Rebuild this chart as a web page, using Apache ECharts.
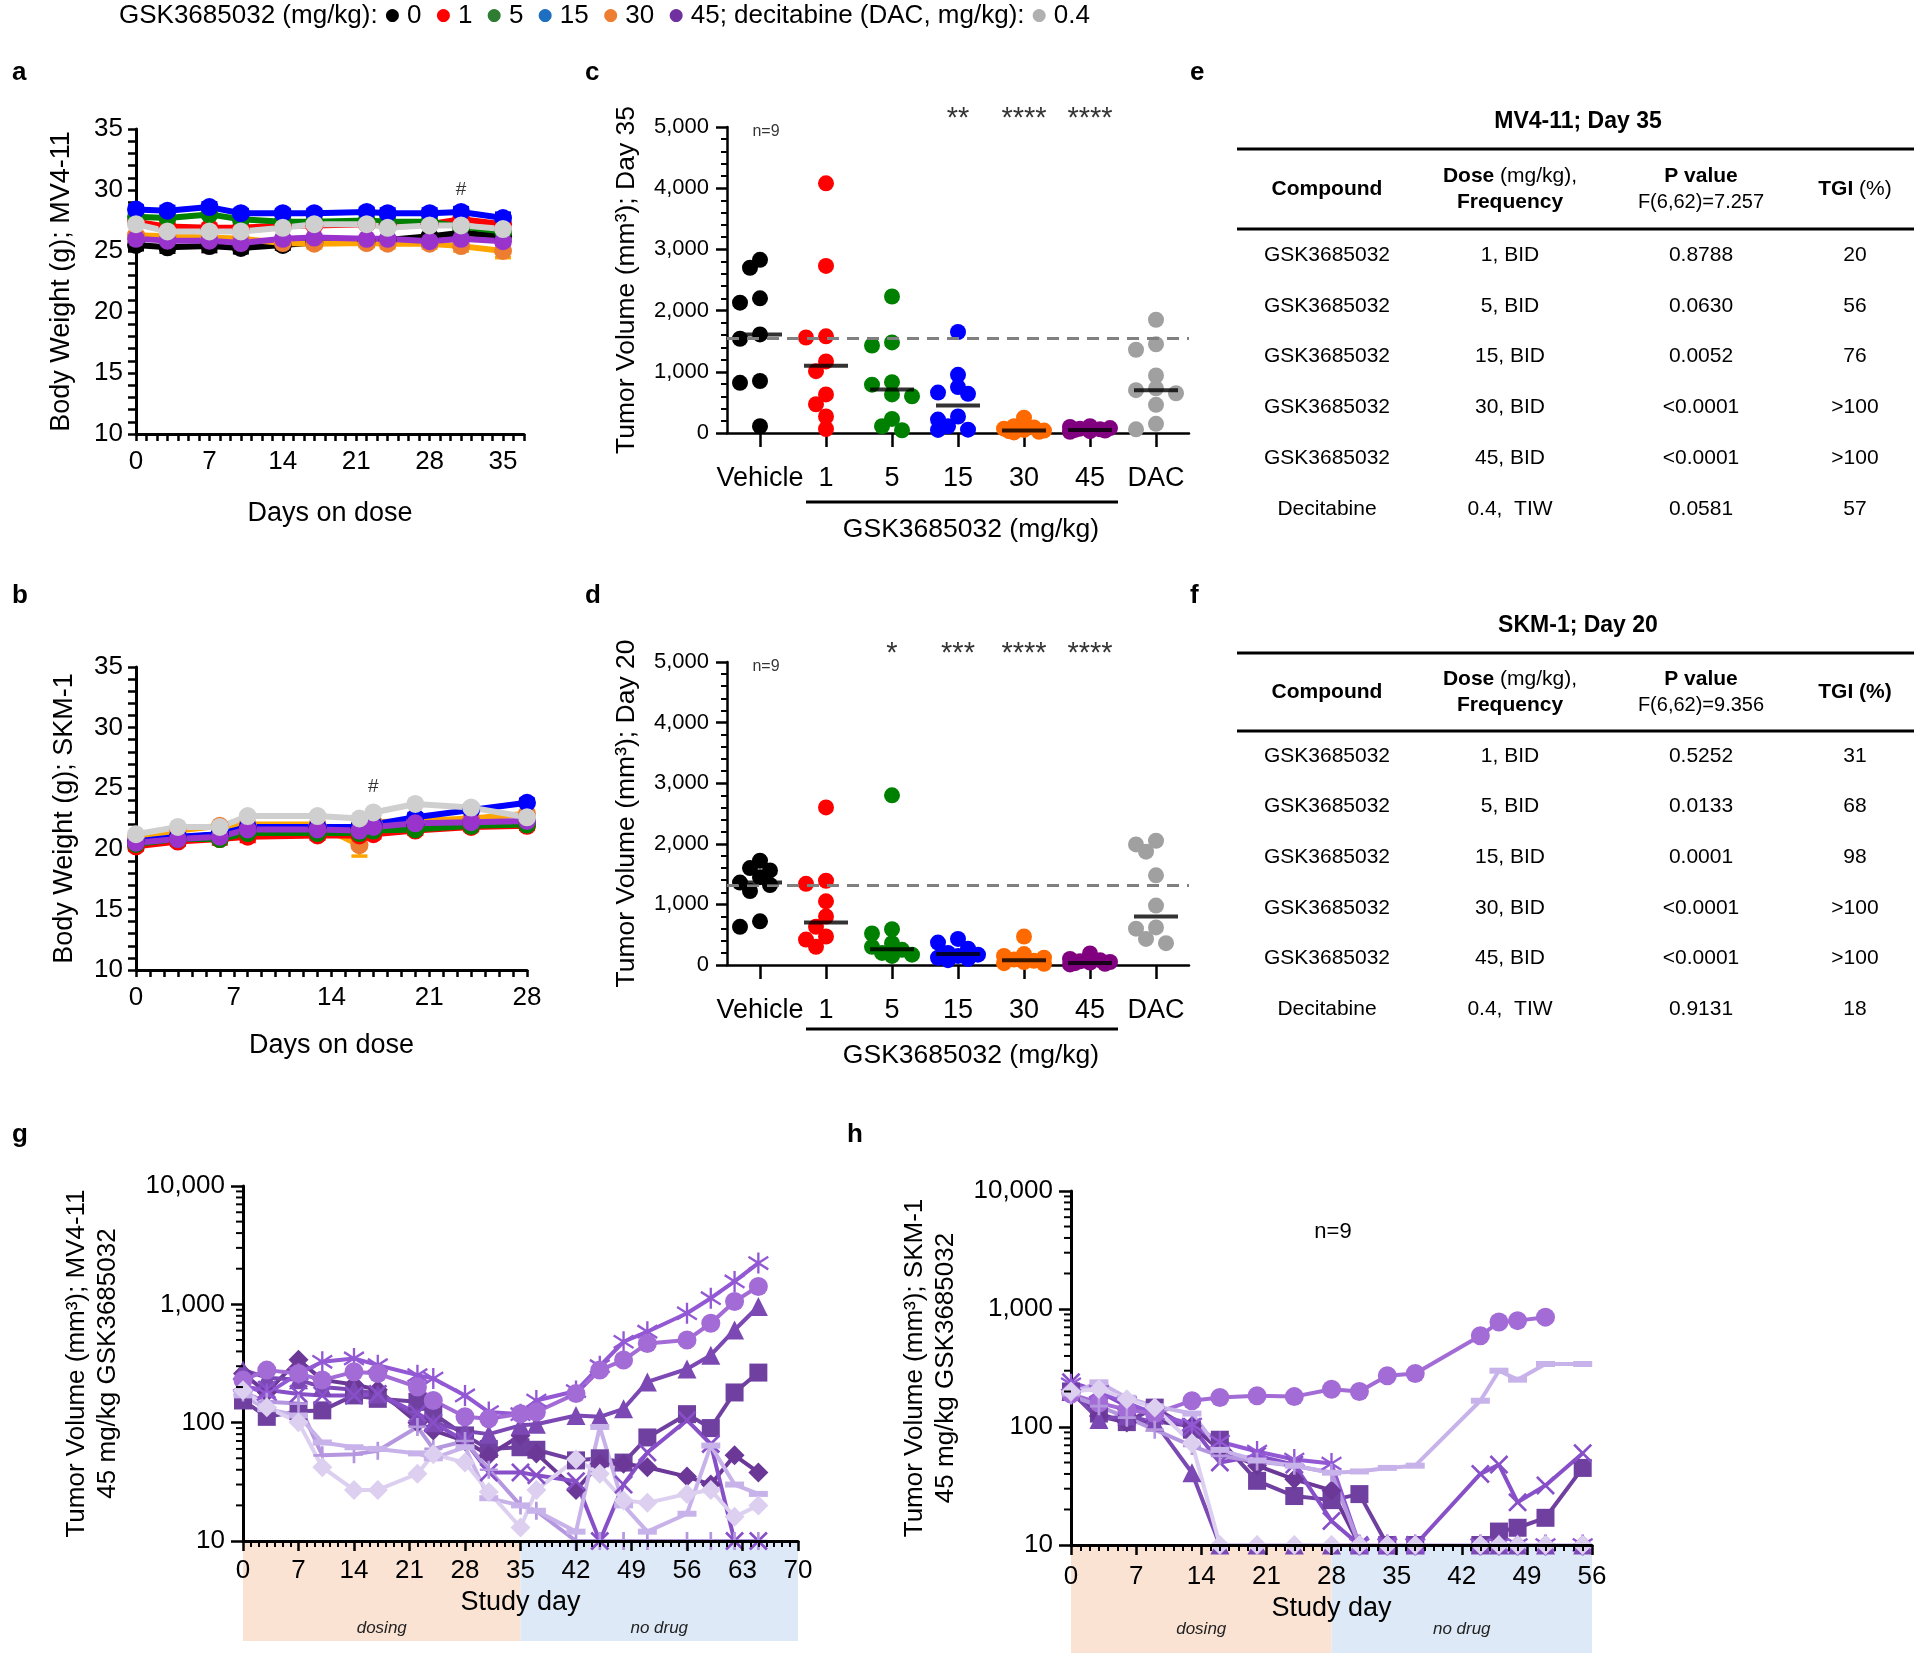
<!DOCTYPE html>
<html><head><meta charset="utf-8">
<script src="https://cdn.jsdelivr.net/npm/echarts/dist/echarts.min.js"></script>
<style>html,body{margin:0;padding:0;background:#fff;}#chart{width:1920px;height:1657px;}</style>
</head><body><div id="chart"></div>
<script>
// ================= DATA =================
const doseLabels = ['0','1','5','15','30','45'];
const dacLabel = '0.4';

// Panel a: MV4-11 body weight (mean) and SEM
const daysA  = [0,3,7,10,14,17,22,24,28,31,35];
const bwA0   = [25.5,25.3,25.4,25.25,25.5,25.7,25.8,25.9,26.2,26.5,26.2];
const bwA1   = [27.4,27.0,26.9,26.9,27.1,27.1,27.2,27.2,27.2,27.6,27.2];
const bwA5   = [27.8,27.7,28.0,27.6,27.4,27.4,27.5,27.4,27.4,27.0,26.6];
const bwA15  = [28.4,28.3,28.6,28.1,28.1,28.1,28.2,28.1,28.1,28.2,27.7];
const bwA30  = [26.3,26.2,26.1,26.0,25.65,25.6,25.65,25.6,25.6,25.4,25.0];
const bwA45  = [26.0,25.85,25.85,25.65,26.0,26.1,26.0,26.0,25.8,26.0,25.8];
const bwADAC = [27.2,26.6,26.6,26.6,26.9,27.2,27.2,26.9,27.1,27.1,26.8];
const semA0  = [0.4,0.4,0.45,0.4,0.35,0.3,0.4,0.3,0.3,0.3,0.3];
const semA1  = [0.3,0.3,0.3,0.3,0.3,0.3,0.3,0.3,0.35,0.4,0.3];
const semA5  = [0.3,0.3,0.35,0.3,0.3,0.3,0.3,0.3,0.3,0.3,0.35];
const semA15 = [0.3,0.35,0.35,0.3,0.3,0.3,0.3,0.35,0.35,0.35,0.4];
const semA30 = [0.3,0.3,0.3,0.3,0.3,0.35,0.3,0.35,0.35,0.4,0.55];
const semA45 = [0.3,0.35,0.3,0.35,0.3,0.3,0.3,0.35,0.4,0.3,0.3];
const hashA  = [31, 30.0];

// Panel b: SKM-1 body weight (mean) and SEM
const daysB  = [0,3,6,8,13,16,17,20,24,28];
const bwB0   = [20.5,20.9,21.2,21.8,21.8,21.8,21.8,22.0,22.3,22.2];
const bwB1   = [20.2,20.6,20.8,21.0,21.1,21.1,21.2,21.5,21.8,21.9];
const bwB5   = [20.4,20.8,20.8,21.3,21.3,21.3,21.5,21.6,21.9,22.0];
const bwB15  = [20.6,21.0,21.2,21.8,21.8,21.8,22.0,22.6,23.2,23.8];
const bwB30  = [21.0,21.5,21.9,22.0,22.0,20.3,22.2,22.3,22.5,22.9];
const bwB45  = [20.5,20.8,21.0,21.6,21.6,21.5,21.8,22.1,22.2,22.3];
const bwBDAC = [21.2,21.8,21.8,22.7,22.7,22.5,23.0,23.7,23.4,22.6];
const semB0  = [0.3,0.3,0.3,0.35,0.35,0.3,0.3,0.3,0.3,0.3];
const semB1  = [0.3,0.3,0.4,0.4,0.3,0.3,0.3,0.3,0.3,0.3];
const semB5  = [0.4,0.5,0.4,0.5,0.6,0.5,0.5,0.4,0.5,0.4];
const semB15 = [0.3,0.3,0.3,0.3,0.3,0.3,0.3,0.3,0.4,0.3];
const semB30 = [0.3,0.3,0.3,0.3,0.3,0.9,0.3,0.3,0.3,0.3];
const semB45 = [0.3,0.4,0.3,0.3,0.3,0.3,0.3,0.3,0.3,0.3];
const hashB  = [17, 25.1];

// Panels c/d: tumour volume scatter
const tvCats = ['Vehicle','1','5','15','30','45','DAC'];
const tvC0   = [2700,2830,2200,2130,1540,1610,850,820,110];
const tvC1   = [4080,2730,1580,1560,1170,1010,630,470,270,65];
const tvC5   = [2230,1480,1430,830,790,630,600,230,110,45];
const tvC15  = [1650,950,750,660,640,270,220,110,55,50];
const tvC30  = [250,110,90,70,50,40,30,20,10];
const tvC45  = [110,100,80,70,60,50,40,30,20];
const tvCDAC = [1850,1450,1360,940,730,700,650,460,150,60];
const medianC = [1610,1100,710,450,40,50,700];
const refLineC = 1550;
const starsC = ['','','','**','****','****',''];

const tvD0   = [1720,1600,1560,1450,1360,1320,1220,720,630];
const tvD1   = [2600,1390,1340,1050,800,630,470,420,300];
const tvD5   = [2800,590,520,360,300,250,200,170,150];
const tvD15  = [430,370,270,200,170,150,120,100,80];
const tvD30  = [470,180,150,120,90,70,50,30,20];
const tvD45  = [190,100,80,60,50,40,30,20,10];
const tvDDAC = [2050,1990,1870,1480,980,620,600,430,360];
const medianD = [1360,700,260,180,80,35,800];
const refLineD = 1323;
const starsD = ['','','*','***','****','****',''];

// Tables e/f
const tblCompound = ['GSK3685032','GSK3685032','GSK3685032','GSK3685032','GSK3685032','Decitabine'];
const tblDose     = ['1, BID','5, BID','15, BID','30, BID','45, BID','0.4,  TIW'];
const pvalE = ['0.8788','0.0630','0.0052','<0.0001','<0.0001','0.0581'];
const tgiE  = ['20','56','76','>100','>100','57'];
const pvalF = ['0.5252','0.0133','0.0001','<0.0001','<0.0001','0.9131'];
const tgiF  = ['31','68','98','>100','>100','18'];

// Panel g: MV4-11 individual mice (45 mg/kg)
const daysG = [0,3,7,10,14,17,22,24,28,31,35,37,42,45,48,51,56,59,62,65];
const mvSquare   = [154,112,125,127,170,159,150,119,78,60,62,59,48,50,46,75,118,90,180,265];
const mvDiamond  = [260,180,340,230,210,190,100,86,70,53,78,55,27,45,45,42,35,30,53,38];
const mvTriangle = [279,240,230,200,190,175,112,100,85,80,95,97,115,112,131,221,284,372,607,958];
const mvCross    = [200,190,175,170,170,175,120,100,70,38,38,36,32,10,30,56,105,66,10,10];
const mvStar     = [210,175,260,327,349,306,252,236,170,123,118,154,185,300,483,587,841,1127,1563,2233];
const mvCircle   = [229,278,260,229,269,260,200,154,112,108,119,123,176,278,338,467,499,692,1057,1417];
const mvPlus     = [180,150,145,53,54,58,92,60,70,40,20,18,10,10,10,10,10,10,10,10];
const mvBar      = [170,130,115,68,62,60,55,50,62,23,20,18,12,92,20,12,17,64,30,25];
const mvDiamondL = [188,135,101,42,27,27,37,54,46,26,13,27,49,37,22,21,25,27,16,20];
const phaseG = [[0,35],[35,70]];

// Panel h: SKM-1 individual mice (45 mg/kg)
const daysH = [0,3,6,9,13,16,20,24,28,31,34,37,44,46,48,51,55];
const skSquare   = [200,130,110,146,95,78,35,26,24,27,10,10,10,13,14,17,45];
const skDiamond  = [195,124,109,112,102,64,47,36,29,10,10,10,10,10,10,10,10];
const skTriangle = [200,116,124,110,41,10,10,10,10,10,10,10,10,10,10,10,10];
const skCross    = [240,200,150,125,100,50,57,48,16,10,10,10,40,48,23,32,60];
const skStar     = [230,200,160,130,105,75,62,53,49,10,10,10,10,10,10,10,10];
const skCircle   = [190,160,140,130,167,178,184,181,209,200,272,284,593,776,797,853,null];
const skPlus     = [185,150,120,95,69,57,51,47,41,10,10,10,10,10,10,10,10];
const skBar      = [195,239,177,150,130,64,52,47,41,42,45,47,167,300,252,342,342];
const skDiamondL = [200,210,172,146,73,10,10,10,10,10,10,10,10,10,10,10,10];
const phaseH = [[0,28],[28,56]];
const phaseLabels = ['dosing','no drug'];

// ================= STYLE / LAYOUT =================
const FF = "'Liberation Sans', Arial, Helvetica, sans-serif";
const L = {
  a:{left:136, top:129, width:388, height:305},
  b:{left:136, top:667, width:391, height:303},
  c:{left:727, top:127, width:462, height:306},
  d:{left:727, top:662, width:462, height:303},
  g:{left:243, top:1186, width:555, height:355},
  h:{left:1071, top:1191, width:521, height:354},
  gb:{left:243, top:1543, width:555, height:98},
  hb:{left:1071, top:1547, width:521, height:106}
};
const bwLine   = ['#000000','#ff0000','#008000','#0000ff','#ffa500','#9933cc','#cfcfcf'];
const bwMark   = ['#000000','#ff0000','#008000','#0000ff','#ed7d31','#9933cc','#cfcfcf'];
const errCol   = ['#000000','#ff0000','#7fdf00','#0000ff','#ffa500','#9933cc','#cfcfcf'];
const errDirA  = [-1, 1, 1, 1, -1, -1, 1];
const errDirB  = [ 1,-1, 1, 1, -1, -1, 1];
const dotCol   = ['#000000','#ff0000','#008000','#0000ff','#ff6a00','#800080','#a0a0a0'];
const legendCol= ['#000000','#ff0000','#2e7d32','#1f6fc1','#ed7d31','#7030a0','#b0b0b0'];
const phaseCol = ['#fbe3d4','#dde9f6'];

function merge(a,b){const r=Object.assign({},a);for(const k in b){const v=b[k];if(v&&typeof v==='object'&&!Array.isArray(v)&&a[k]&&typeof a[k]==='object'&&!Array.isArray(a[k]))r[k]=merge(a[k],v);else r[k]=v;}return r;}
const baseAxis = {
  type:'value', splitLine:{show:false}, nameMoveOverlap:false,
  axisLine:{show:true, onZero:false, lineStyle:{color:'#000', width:3}},
  axisTick:{show:true, length:8, lineStyle:{color:'#000', width:2.5}},
  axisLabel:{color:'#000', fontSize:26, fontFamily:FF, hideOverlap:false},
  nameTextStyle:{color:'#000', fontSize:27, fontFamily:FF},
  nameLocation:'middle'
};
const fmtThousands = v => Number(v).toLocaleString('en-US');

const grids = ['a','b','c','d','g','h','gb','hb'].map(k=>Object.assign({containLabel:false}, L[k]));

const xAxes = [
  merge(baseAxis,{gridIndex:0,min:0,max:37,interval:1,axisTick:{length:7},axisLabel:{margin:15,formatter:v=>(v%7===0&&v<=35)?String(v):''},name:'Days on dose',nameGap:66}),
  merge(baseAxis,{gridIndex:1,min:0,max:28,interval:1,axisTick:{length:7},axisLabel:{margin:15,formatter:v=>(v%7===0)?String(v):''},name:'Days on dose',nameGap:62}),
  merge(baseAxis,{gridIndex:2,type:'category',data:tvCats,boundaryGap:true,axisLine:{lineStyle:{width:2.5}},axisTick:{alignWithLabel:true,length:14,interval:0},axisLabel:{fontSize:27,margin:32,interval:0}}),
  merge(baseAxis,{gridIndex:3,type:'category',data:tvCats,boundaryGap:true,axisLine:{lineStyle:{width:2.5}},axisTick:{alignWithLabel:true,length:14,interval:0},axisLabel:{fontSize:27,margin:32,interval:0}}),
  merge(baseAxis,{gridIndex:4,min:0,max:70,interval:7,z:10,axisTick:{length:10},minorTick:{show:true,splitNumber:7,length:6,lineStyle:{color:'#000',width:2}},axisLabel:{margin:17},name:'Study day',nameGap:48}),
  merge(baseAxis,{gridIndex:5,min:0,max:56,interval:7,z:10,axisTick:{length:10},minorTick:{show:true,splitNumber:7,length:6,lineStyle:{color:'#000',width:2}},axisLabel:{margin:19},name:'Study day',nameGap:50}),
  {type:'value',gridIndex:6,min:0,max:70,show:false},
  {type:'value',gridIndex:7,min:0,max:56,show:false}
];
const yAxes = [
  merge(baseAxis,{gridIndex:0,min:10,max:35,interval:1,axisTick:{length:8},axisLabel:{margin:13,formatter:v=>(v%5===0)?String(v):''},name:'Body Weight (g); MV4-11',nameRotate:90,nameGap:61}),
  merge(baseAxis,{gridIndex:1,min:10,max:35,interval:1,axisTick:{length:8},axisLabel:{margin:13,formatter:v=>(v%5===0)?String(v):''},name:'Body Weight (g); SKM-1',nameRotate:90,nameGap:58}),
  merge(baseAxis,{gridIndex:2,min:0,max:5000,interval:1000,axisLine:{lineStyle:{width:2.5}},axisTick:{length:11},minorTick:{show:true,splitNumber:5,length:6,lineStyle:{color:'#000',width:2}},axisLabel:{fontSize:22,margin:18,formatter:fmtThousands},name:'Tumor Volume (mm³); Day 35',nameRotate:90,nameGap:87,nameTextStyle:{fontSize:26.5}}),
  merge(baseAxis,{gridIndex:3,min:0,max:5000,interval:1000,axisLine:{lineStyle:{width:2.5}},axisTick:{length:11},minorTick:{show:true,splitNumber:5,length:6,lineStyle:{color:'#000',width:2}},axisLabel:{fontSize:22,margin:18,formatter:fmtThousands},name:'Tumor Volume (mm³); Day 20',nameRotate:90,nameGap:87,nameTextStyle:{fontSize:26.5}}),
  merge(baseAxis,{gridIndex:4,type:'log',logBase:10,min:10,max:10000,axisTick:{length:12},axisLabel:{margin:18,formatter:fmtThousands},name:'Tumor Volume (mm³); MV4-11\n45 mg/kg GSK3685032',nameRotate:90,nameGap:120,nameTextStyle:{fontSize:26,lineHeight:31}}),
  merge(baseAxis,{gridIndex:5,type:'log',logBase:10,min:10,max:10000,axisTick:{length:12},axisLabel:{margin:18,formatter:fmtThousands},name:'Tumor Volume (mm³); SKM-1\n45 mg/kg GSK3685032',nameRotate:90,nameGap:110,nameTextStyle:{fontSize:26,lineHeight:31}}),
  {type:'value',gridIndex:6,min:0,max:1,show:false},
  {type:'value',gridIndex:7,min:0,max:1,show:false}
];

const series = [];
// ----- body weight panels -----
const drawOrder = [0,4,1,2,3,5,6];
function bwSeries(gi, days, sets, sems, dirs){
  // error bars (drawn beneath lines)
  drawOrder.forEach(i=>{
    if(!sems[i]) return;
    series.push({type:'custom', xAxisIndex:gi, yAxisIndex:gi, silent:true, z:1, clip:false,
      data: days.map((d,k)=>[d, sets[i][k], sems[i][k]]),
      renderItem:(p,api)=>{
        const x=api.value(0), y=api.value(1), s=api.value(2);
        const a=api.coord([x,y]), b=api.coord([x,y+dirs[i]*s]);
        return {type:'group', children:[
          {type:'line', shape:{x1:a[0],y1:a[1],x2:b[0],y2:b[1]}, style:{stroke:errCol[i], lineWidth:3}},
          {type:'line', shape:{x1:b[0]-8,y1:b[1],x2:b[0]+8,y2:b[1]}, style:{stroke:errCol[i], lineWidth:3.5}}
        ]};
      }});
  });
  drawOrder.forEach(i=>{
    series.push({type:'line', xAxisIndex:gi, yAxisIndex:gi, data:days.map((d,k)=>[d,sets[i][k]]), z:3,
      symbol:'circle', symbolSize:18, clip:false, silent:true,
      lineStyle:{color:bwLine[i], width:6}, itemStyle:{color:bwMark[i]}});
  });
}
bwSeries(0, daysA, [bwA0,bwA1,bwA5,bwA15,bwA30,bwA45,bwADAC], [semA0,semA1,semA5,semA15,semA30,semA45,null], errDirA);
bwSeries(1, daysB, [bwB0,bwB1,bwB5,bwB15,bwB30,bwB45,bwBDAC], [semB0,semB1,semB5,semB15,semB30,semB45,null], errDirB);
[[0,hashA],[1,hashB]].forEach(([gi,p])=>{
  series.push({type:'scatter', xAxisIndex:gi, yAxisIndex:gi, data:[p], symbolSize:1, itemStyle:{color:'rgba(0,0,0,0)'}, z:10,
    label:{show:true, position:'inside', formatter:'#', color:'#000', fontSize:19, fontFamily:FF}});
});

// ----- scatter panels -----
function swarm(vals, pxPerUnit){
  const step=10, D=12;
  const order = vals.map((v,i)=>[v,i]).sort((a,b)=>b[0]-a[0]);
  const placed=[], off=new Array(vals.length).fill(0);
  const cands=[0,-step,step,-2*step,2*step,-1.5*step,1.5*step];
  for(const [v,i] of order){
    const y=v*pxPerUnit; let best=null, bestD=-1;
    for(const dx of cands){
      const md = placed.length? Math.min(...placed.map(p=>Math.hypot(p[0]-dx,p[1]-y))) : 1e9;
      if(md>=D){best=dx;bestD=md;break;}
      if(md>bestD){bestD=md;best=dx;}
    }
    placed.push([best,y]); off[i]=best;
  }
  return off;
}
function tvPanel(gi, groups, medians, refLine, stars, h){
  const ppu = h/5000;
  groups.forEach((vals,ci)=>{
    const off = swarm(vals, ppu);
    series.push({type:'scatter', xAxisIndex:gi, yAxisIndex:gi, symbolSize:16, silent:true, clip:false,
      itemStyle:{color:dotCol[ci], opacity:1},
      data: vals.map((v,k)=>({value:[ci,v], symbolOffset:[off[k],0]}))});
  });
  series.push({type:'scatter', xAxisIndex:gi, yAxisIndex:gi, symbol:'rect', symbolSize:[44,4], z:5, silent:true,
    itemStyle:{color:'#000'}, data: medians.map((m,i)=>[i,m]),
    markLine:{silent:true, symbol:['none','none'], label:{show:false},
      lineStyle:{color:'#808080', width:3, type:[12,8]}, data:[{yAxis:refLine}]}});
  series.push({type:'scatter', xAxisIndex:gi, yAxisIndex:gi, symbolSize:1, itemStyle:{color:'rgba(0,0,0,0)'}, silent:true,
    data: stars.map((s,i)=>({value:[i,5000], label:{show: s!=='', formatter:s}})).filter(d=>d.label.show),
    label:{position:'inside', offset:[0,-8], color:'#000', fontSize:29, fontFamily:FF}});
  series.push({type:'scatter', xAxisIndex:gi, yAxisIndex:gi, symbolSize:1, itemStyle:{color:'rgba(0,0,0,0)'}, silent:true,
    data:[[0,5000]], label:{show:true, position:'inside', offset:[6,5], formatter:'n=9', color:'#000', fontSize:16, fontFamily:FF}});
}
tvPanel(2, [tvC0,tvC1,tvC5,tvC15,tvC30,tvC45,tvCDAC], medianC, refLineC, starsC, L.c.height);
tvPanel(3, [tvD0,tvD1,tvD5,tvD15,tvD30,tvD45,tvDDAC], medianD, refLineD, starsD, L.d.height);

// ----- individual mice panels -----
const SYM = {
  square:'rect', diamond:'diamond', triangle:'triangle', circle:'circle', bar:'rect',
  cross:'path://M0,2 L2,0 L10,8 L18,0 L20,2 L12,10 L20,18 L18,20 L10,12 L2,20 L0,18 L8,10 Z',
  star:'path://M9,0 H11 V20 H9 Z M1,5 L2,3 L19,15 L18,17 Z M2,17 L1,15 L18,3 L19,5 Z',
  plus:'path://M8.5,0 H11.5 V8.5 H20 V11.5 H11.5 V20 H8.5 V11.5 H0 V8.5 H8.5 Z'
};
const mouseStyle = [
  {sym:'square',  color:'#7040a0', size:18},
  {sym:'diamond', color:'#6b3898', size:20},
  {sym:'triangle',color:'#7b48b4', size:19},
  {sym:'cross',   color:'#8850c8', size:19},
  {sym:'star',    color:'#9358d4', size:21},
  {sym:'circle',  color:'#a36bd6', size:19},
  {sym:'plus',    color:'#b597e0', size:18},
  {sym:'bar',     color:'#c8b2ea', size:[19,6]},
  {sym:'diamond', color:'#dccff0', size:20}
];
function micePanel(gi, days, sets){
  sets.forEach((vals,i)=>{
    const st = mouseStyle[i];
    series.push({type:'line', xAxisIndex:gi, yAxisIndex:gi, clip:false, silent:true,
      data: days.map((d,k)=>[d, vals[k]]),
      symbol:SYM[st.sym], symbolSize:st.size, lineStyle:{color:st.color, width:4}, itemStyle:{color:st.color}});
  });
  const minor=[]; for(let d=10; d<10000; d*=10) for(let m=2;m<10;m++) minor.push([0,d*m]);
  series.push({type:'custom', xAxisIndex:gi, yAxisIndex:gi, silent:true, z:10, data:minor,
    renderItem:(p,api)=>{const c=api.coord([0,api.value(1)]); return {type:'line', shape:{x1:c[0]-7,y1:c[1],x2:c[0],y2:c[1]}, style:{stroke:'#000', lineWidth:2}};}});
}
micePanel(4, daysG, [mvSquare,mvDiamond,mvTriangle,mvCross,mvStar,mvCircle,mvPlus,mvBar,mvDiamondL]);
micePanel(5, daysH, [skSquare,skDiamond,skTriangle,skCross,skStar,skCircle,skPlus,skBar,skDiamondL]);

function phaseBand(gi, phases, textFromBottom){
  series.push({type:'custom', xAxisIndex:gi, yAxisIndex:gi, silent:true, z:1,
    data: phases.map(p=>[p[0],p[1]]),
    renderItem:(params,api)=>{
      const p0=api.coord([api.value(0),1]), p1=api.coord([api.value(1),0]);
      const i=params.dataIndex;
      return {type:'group', children:[
        {type:'rect', shape:{x:p0[0], y:p0[1], width:p1[0]-p0[0], height:p1[1]-p0[1]}, style:{fill:phaseCol[i]}},
        {type:'text', style:{text:phaseLabels[i], x:(p0[0]+p1[0])/2, y:p1[1]-textFromBottom, align:'center', verticalAlign:'middle',
          font:'italic 17px '+FF, fill:'#222'}}
      ]};
    }});
}
phaseBand(6, phaseG, 13);
phaseBand(7, phaseH, 24);

// ================= GRAPHICS (legend, panel letters, tables) =================
const graphic = [];
const legendKeys = ['k0','k1','k2','k3','k4','k5','k6'];
let lt = 'GSK3685032 (mg/kg): ';
doseLabels.forEach((d,i)=>{ lt += '{'+legendKeys[i]+'|●}'+' '+d+(i<doseLabels.length-1?'  ':'; '); });
lt += 'decitabine (DAC, mg/kg): {k6|●} '+dacLabel;
const rich = {}; legendKeys.forEach((k,i)=>{ rich[k]={fill:legendCol[i], fontSize:17, fontFamily:'DejaVu Sans'}; });
graphic.push({type:'text', x:119, y:16, style:{text:lt, rich, font:'26px '+FF, fill:'#000', verticalAlign:'middle', textVerticalAlign:'middle'}});

[['a',12,73],['b',12,596],['c',585,73],['d',585,596],['e',1190,73],['f',1190,596],['g',12,1135],['h',847,1135]].forEach(([t,x,y])=>{
  graphic.push({type:'text', x, y, style:{text:t, font:'bold 26px '+FF, fill:'#000', verticalAlign:'middle', textVerticalAlign:'middle'}});
});

[[502,530],[1029,1056]].forEach(([ly,ty])=>{
  graphic.push({type:'line', shape:{x1:806,y1:ly,x2:1118,y2:ly}, style:{stroke:'#000', lineWidth:3}});
  graphic.push({type:'text', x:971, y:ty, style:{text:'GSK3685032 (mg/kg)', font:'26.5px '+FF, fill:'#000', align:'center', verticalAlign:'middle', textAlign:'center', textVerticalAlign:'middle'}});
});
graphic.push({type:'text', x:1333, y:1232, style:{text:'n=9', font:'22px '+FF, fill:'#000', align:'center', verticalAlign:'middle', textAlign:'center', textVerticalAlign:'middle'}});

function txt(x,y,text,font,rich){
  const s={text, font, fill:'#000', align:'center', verticalAlign:'middle', textAlign:'center', textVerticalAlign:'middle'};
  if(rich) s.rich=rich;
  graphic.push({type:'text', x, y, style:s});
}
function table(cfg){
  const cols=[1327,1510,1701,1855];
  txt(1578, cfg.titleY, cfg.title, 'bold 23px '+FF);
  graphic.push({type:'line', shape:{x1:1237,y1:cfg.r1,x2:1914,y2:cfg.r1}, style:{stroke:'#000', lineWidth:3}});
  graphic.push({type:'line', shape:{x1:1237,y1:cfg.r2,x2:1914,y2:cfg.r2}, style:{stroke:'#000', lineWidth:3}});
  const hm=(cfg.r1+cfg.r2)/2;
  const rb={b:{fontWeight:'bold', fontSize:21, fontFamily:FF}, n:{fontSize:21, fontFamily:FF}};
  txt(cols[0], hm, 'Compound', 'bold 21px '+FF);
  txt(cols[1], hm-13, '{b|Dose} {n|(mg/kg),}', '21px '+FF, rb);
  txt(cols[1], hm+13, 'Frequency', 'bold 21px '+FF);
  txt(cols[2], hm-13, 'P value', 'bold 21px '+FF);
  txt(cols[2], hm+13, cfg.fstat, '20px '+FF);
  txt(cols[3], hm, cfg.tgiHead, '21px '+FF, rb);
  for(let i=0;i<tblCompound.length;i++){
    const y=cfg.row0+i*cfg.step;
    txt(cols[0], y, tblCompound[i], '21px '+FF);
    txt(cols[1], y, tblDose[i], '21px '+FF);
    txt(cols[2], y, cfg.p[i], '21px '+FF);
    txt(cols[3], y, cfg.t[i], '21px '+FF);
  }
}
table({title:'MV4-11; Day 35', titleY:122, r1:149, r2:229, fstat:'F(6,62)=7.257', tgiHead:'{b|TGI} {n|(%)}', p:pvalE, t:tgiE, row0:255, step:50.8});
table({title:'SKM-1; Day 20', titleY:626, r1:653, r2:731, fstat:'F(6,62)=9.356', tgiHead:'{b|TGI (%)}', p:pvalF, t:tgiF, row0:756, step:50.6});

const chart = echarts.init(document.getElementById('chart'), null, {width:1920, height:1657});
chart.setOption({
  animation:false, backgroundColor:'#fff',
  textStyle:{fontFamily:FF},
  grid:grids, xAxis:xAxes, yAxis:yAxes, series, graphic
});
</script></body></html>
